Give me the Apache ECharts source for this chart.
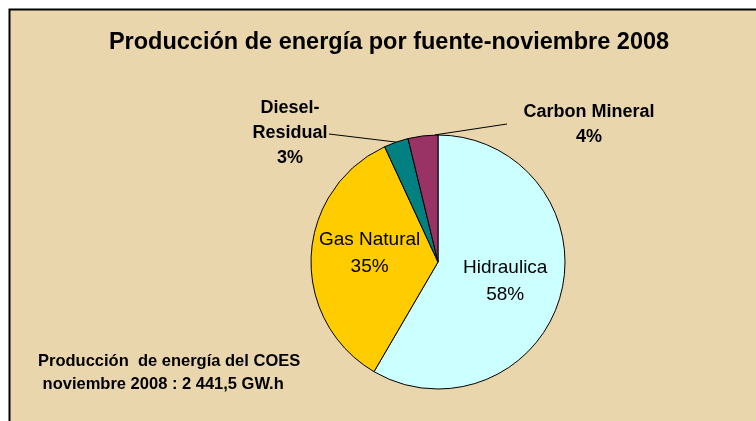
<!DOCTYPE html>
<html><head><meta charset="utf-8">
<script src="https://cdn.jsdelivr.net/npm/echarts@6/dist/echarts.min.js"></script>
<style>html,body{margin:0;padding:0;background:#fff}#c{width:756px;height:421px}</style>
</head><body><div id="c"></div>
<script>
var categories = ['Hidraulica', 'Gas Natural', 'Diesel-Residual', 'Carbon Mineral'];
var values = [1426.0, 847.0, 76.0, 92.5];
var colors = ['#CCFFFF', '#FFCC00', '#008080', '#993366'];
var titleText = 'Producción de energía por fuente-noviembre 2008';
var noteLines = ['Producción  de energía del COES', ' noviembre 2008 : 2 441,5 GW.h'];

var chart = echarts.init(document.getElementById('c'), null, {renderer: 'canvas'});
var FONT = '"Liberation Sans", Arial, sans-serif';
var data = categories.map(function (n, i) {
  var d = {name: n, value: values[i], itemStyle: {color: colors[i]}};
  if (i < 2) {
    d.label = {position: 'inner', fontWeight: 'normal', fontSize: 19, lineHeight: 27, color: '#000'};
    d.labelLine = {show: false};
  } else {
    d.label = {position: 'outside', fontWeight: 'bold', fontSize: 18, lineHeight: 25, color: '#000'};
    d.labelLine = {show: true};
  }
  return d;
});
function fmt(p) {
  var pct = Math.round(p.percent) + '%';
  if (p.name === 'Diesel-Residual') return 'Diesel-\nResidual\n' + pct;
  return p.name + '\n' + pct;
}
chart.setOption({
  backgroundColor: '#fff',
  animation: false,
  graphic: [
    {type: 'rect', shape: {x: 9.5, y: 9.5, width: 760, height: 430}, style: {fill: '#EAD6AC', stroke: '#000', lineWidth: 2}, z: -10},
    {type: 'text', left: 38, top: 350, style: {text: noteLines.join('\n'), font: 'bold 16.5px ' + FONT, lineHeight: 23, fill: '#000'}}
  ],
  title: {text: titleText, left: 384, textAlign: 'center', top: 26,
    textStyle: {fontFamily: FONT, fontWeight: 'bold', fontSize: 23.5, color: '#000'}},
  series: [{
    type: 'pie',
    center: [438, 262],
    radius: [0, 127],
    startAngle: 90,
    clockwise: true,
    data: data,
    label: {fontFamily: FONT, formatter: fmt},
    itemStyle: {borderColor: '#000', borderWidth: 1},
    labelLine: {lineStyle: {color: '#000', width: 1}},
    labelLayout: function (p) {
      if (p.dataIndex === 0) return {dx: 3, dy: 2};
      if (p.dataIndex === 1) return {dx: -2, dy: -6};
      if (p.dataIndex === 2) {
        var s = p.labelLinePoints ? p.labelLinePoints[0] : [396, 142];
        return {x: 290, y: 133, align: 'center', verticalAlign: 'middle',
          labelLinePoints: [s, [329, 134], [329, 134]]};
      }
      if (p.dataIndex === 3) {
        var s2 = p.labelLinePoints ? p.labelLinePoints[0] : [425, 135];
        return {x: 589, y: 125, align: 'center', verticalAlign: 'middle',
          labelLinePoints: [[s2[0] + 12, s2[1] - 1], [507, 124], [507, 124]]};
      }
      return {};
    }
  }]
});
</script></body></html>
